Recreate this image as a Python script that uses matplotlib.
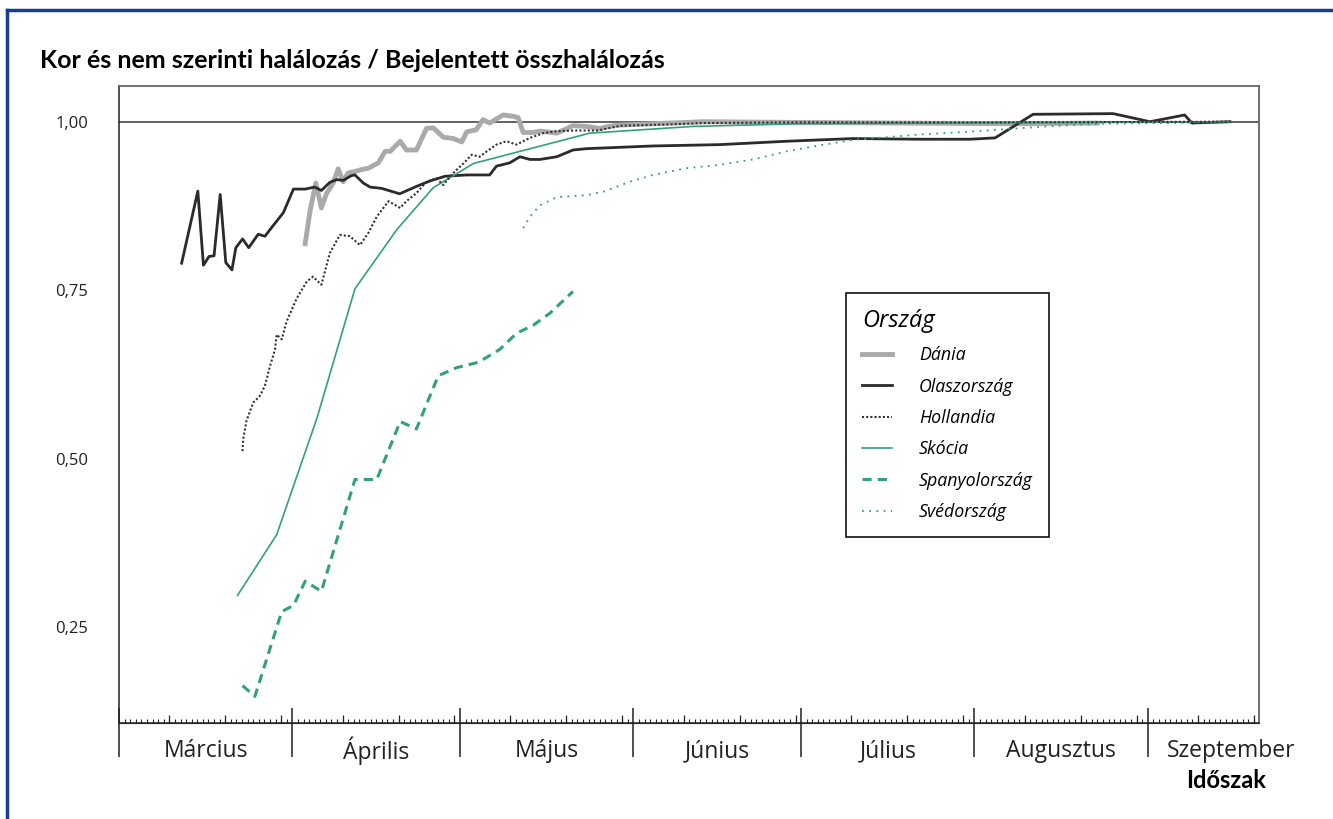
import numpy as np
import matplotlib
matplotlib.use("Agg")
import matplotlib.pyplot as plt
import matplotlib.transforms as mtransforms
from matplotlib.lines import Line2D

plt.rcParams['font.family'] = ['Open Sans', 'DejaVu Sans']

# napok marcius 1-tol szamolva
months = ["Március", "Április", "Május", "Június", "Július", "Augusztus", "Szeptember"]
month_days = [31, 30, 31, 30, 31, 31, 30]
x_end = 203.9

dania_x = [33.3, 34.2, 35.2, 36.2, 37.1, 38.3, 39.2, 40.1, 41.0, 42.2, 43.4, 44.6, 46.4, 47.6,
           48.5, 50.3, 51.4, 53.2, 55.0, 56.2, 58.0, 59.8, 61.3, 62.2, 63.9, 65.1, 66.3, 68.7,
           70.5, 71.4, 72.3, 74.1, 75.3, 76.5, 78.3, 81.2, 83.6, 86.0, 87.5, 89.6, 95.5, 101.5,
           104.4, 120, 140, 160, 175]
dania_y = [0.819, 0.869, 0.909, 0.872, 0.893, 0.909, 0.930, 0.911, 0.924, 0.926, 0.929, 0.931,
           0.939, 0.956, 0.956, 0.971, 0.958, 0.958, 0.990, 0.991, 0.977, 0.975, 0.970, 0.985,
           0.988, 1.003, 0.998, 1.010, 1.008, 1.006, 0.984, 0.984, 0.986, 0.985, 0.983, 0.994,
           0.993, 0.990, 0.993, 0.995, 0.997, 0.999, 1.000, 0.999, 0.998, 0.997, 0.998]

olasz_x = [11.2, 14.1, 15.1, 16.1, 17.0, 18.1, 19.1, 20.2, 20.9, 22.1, 23.2, 24.9, 26.1, 27.3,
           29.4, 31.2, 33.3, 35.0, 36.2, 37.7, 38.9, 40.1, 41.6, 42.2, 43.7, 44.9, 47.0, 50.2,
           53.2, 55.6, 58.3, 62.2, 66.3, 67.5, 69.9, 71.7, 73.5, 75.3, 78.3, 81.2, 83.6, 95.5,
           107.5, 119.4, 131.3, 143.2, 152.2, 156.7, 163.5, 177.8, 184.4, 190.6, 191.9, 198.7]
olasz_y = [0.790, 0.897, 0.787, 0.800, 0.801, 0.892, 0.791, 0.780, 0.813, 0.826, 0.813, 0.833,
           0.830, 0.843, 0.865, 0.900, 0.900, 0.903, 0.898, 0.910, 0.914, 0.913, 0.920, 0.921,
           0.909, 0.903, 0.901, 0.893, 0.904, 0.912, 0.919, 0.921, 0.921, 0.934, 0.939, 0.948,
           0.944, 0.944, 0.948, 0.958, 0.960, 0.964, 0.966, 0.971, 0.975, 0.974, 0.974, 0.976,
           1.011, 1.012, 1.000, 1.010, 0.998, 1.000]

holl_x = [22.1, 22.2, 22.8, 24.0, 25.2, 26.1, 27.0, 27.9, 28.2, 29.1, 30.0, 31.8, 33.6, 34.7,
          36.2, 37.7, 39.5, 41.3, 43.1, 44.6, 46.1, 48.2, 50.3, 51.4, 53.2, 55.0, 56.8, 58.0,
          59.8, 61.6, 63.1, 64.5, 65.8, 67.5, 69.3, 71.1, 73.5, 75.9, 78.3, 81.8, 85.7, 89.6,
          98.5, 104.4, 119.5, 139.7, 157.5, 198.7]
holl_y = [0.511, 0.528, 0.556, 0.583, 0.593, 0.608, 0.637, 0.662, 0.684, 0.677, 0.704, 0.738,
          0.763, 0.770, 0.758, 0.805, 0.832, 0.830, 0.817, 0.835, 0.859, 0.882, 0.872, 0.882,
          0.894, 0.911, 0.916, 0.906, 0.924, 0.938, 0.951, 0.948, 0.956, 0.966, 0.971, 0.966,
          0.976, 0.983, 0.986, 0.987, 0.987, 0.994, 0.996, 0.998, 0.999, 0.999, 0.999, 1.000]

skocia_x = [21.2, 28.2, 35.4, 42.2, 49.7, 56.2, 63.4, 84.2, 102.6, 121.8, 143.2, 198.7]
skocia_y = [0.297, 0.387, 0.560, 0.752, 0.840, 0.902, 0.938, 0.983, 0.993, 0.997, 0.998, 1.000]

spany_x = [22.1, 24.3, 29.1, 31.2, 33.3, 36.2, 42.2, 46.1, 50.3, 53.2, 57.1, 60.4, 64.3, 68.1,
           71.1, 74.1, 77.1, 81.2]
spany_y = [0.163, 0.147, 0.273, 0.282, 0.318, 0.303, 0.469, 0.469, 0.555, 0.544, 0.623, 0.635,
           0.643, 0.662, 0.686, 0.698, 0.716, 0.748]

sved_x = [72.3, 73.5, 75.3, 78.3, 83.6, 86.6, 91.4, 95.5, 101.5, 107.5, 113.4, 119.4, 125.4,
          131.3, 137.3, 143.2, 151.6, 165.9, 175.4, 198.7]
sved_y = [0.842, 0.859, 0.876, 0.888, 0.891, 0.896, 0.911, 0.921, 0.931, 0.936, 0.944, 0.956,
          0.965, 0.973, 0.977, 0.981, 0.985, 0.993, 0.997, 0.999]

yticks = [0.25, 0.50, 0.75, 1.00]

green = "#34a079"

fig = plt.figure(figsize=(13.33, 8.19), dpi=100)
ax = fig.add_axes([119/1333, 1-723/819, (1259-119)/1333, (723-86)/819])

ax.axhline(1.0, color="#555555", lw=1.3, zorder=1)

ax.plot(dania_x, dania_y, color="#aaaaaa", lw=3.5, solid_joinstyle="round", label="Dánia", zorder=3)
ax.plot(olasz_x, olasz_y, color="#2b2b2b", lw=2.0, label="Olaszország", zorder=4)
ax.plot(holl_x, holl_y, color="#333333", lw=1.5, ls=(0, (1, 1)), label="Hollandia", zorder=5)
ax.plot(skocia_x, skocia_y, color=green, lw=1.2, label="Skócia", zorder=4)
ax.plot(spany_x, spany_y, color=green, lw=2.2, ls=(0, (3, 2)), label="Spanyolország", zorder=4)
ax.plot(sved_x, sved_y, color=green, lw=1.3, ls=(0, (1, 3)), label="Svédország", zorder=4)

ax.set_xlim(0, x_end)
ax.set_ylim(0.1076, 1.053)

# y tengely
ax.set_yticks(yticks)
ax.set_yticklabels([f"{v:.2f}".replace(".", ",") for v in yticks], fontsize=12, color="#222222")
ax.tick_params(axis="y", length=0, pad=22)

# x tengely: honap hatarok, 10-es napok, napi osztas
starts = np.concatenate([[0], np.cumsum(month_days)[:-1]])
mids = starts + np.array(month_days) / 2
tens = [s + d - 1 for s, n in zip(starts, month_days) for d in (10, 20, 30) if d <= n]
tens = [t for t in tens if t < x_end]
ax.set_xticks([s for s in starts if s <= x_end])
ax.set_xticklabels([])
ax.set_xticks(np.arange(0, x_end), minor=True)
ax.tick_params(axis="x", which="major", direction="out", length=24.5, width=1.1, color="#222222")
ax.tick_params(axis="x", which="minor", direction="in", length=3, width=0.8, color="#222222")

sec = ax.secondary_xaxis("bottom")
sec.set_xticks([s for s in starts if s <= x_end])
sec.set_xticklabels([])
sec.set_xticks(tens, minor=True)
sec.tick_params(which="major", direction="in", length=10.5, width=1.1, color="#222222")
sec.tick_params(which="minor", direction="in", length=5.5, width=0.9, color="#222222")
sec.spines["bottom"].set_color("#222222")

trans = mtransforms.blended_transform_factory(ax.transData, fig.transFigure)
for m, xm in zip(months, mids):
    ax.text(xm, 1-751/819, m, transform=trans, ha="center", va="center", fontsize=16.5, color="#222222")

for s in ["top", "right"]:
    ax.spines[s].set_color("#666666")
    ax.spines[s].set_linewidth(1.3)
ax.spines["left"].set_color("#222222")
ax.spines["bottom"].set_color("#222222")
ax.spines["left"].set_linewidth(1.1)
ax.spines["bottom"].set_linewidth(1.1)

leg = ax.legend(loc="upper left", bbox_to_anchor=(846/1333, 1-293/819), bbox_transform=fig.transFigure,
                title="Ország", frameon=True, fancybox=False, edgecolor="#111111", framealpha=1,
                prop={"style": "italic", "size": 12.8}, title_fontproperties={"style": "italic", "size": 17},
                handlelength=1.7, handletextpad=1.5, labelspacing=0.75, borderpad=0.9,
                borderaxespad=0, alignment="left")
leg.get_frame().set_linewidth(1.2)

fig.text(40/1333, 1-60/819, "Kor és nem szerinti halálozás / Bejelentett összhalálozás",
         fontsize=18, fontweight="bold", family=["Lato", "DejaVu Sans"], va="center", ha="left")
fig.text(1266/1333, 1-781/819, "Időszak", fontsize=17, fontweight="bold",
         family=["Lato", "DejaVu Sans"], va="center", ha="right")

# keret
navy = "#1b3d8f"
fig.add_artist(Line2D([7/1333, 1], [1-10/819, 1-10/819], transform=fig.transFigure, color=navy, lw=2.5))
fig.add_artist(Line2D([7/1333, 7/1333], [0, 1-10/819], transform=fig.transFigure, color=navy, lw=2.5))

fig.savefig("out.png", dpi=100)
